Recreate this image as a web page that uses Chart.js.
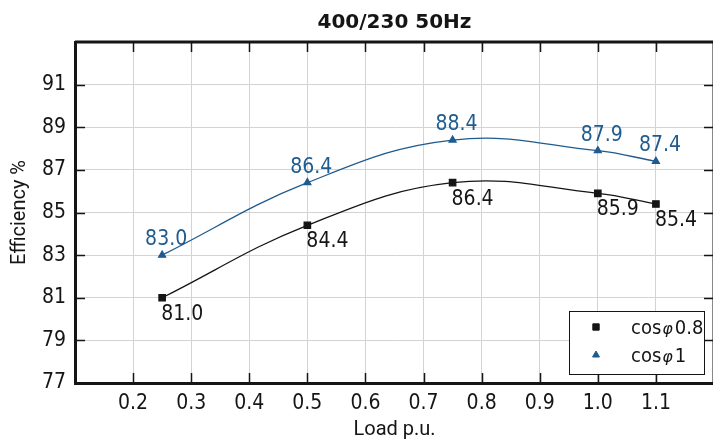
<!DOCTYPE html>
<html>
<head>
<meta charset="utf-8">
<script src="https://cdn.jsdelivr.net/npm/chart.js@4.4.1/dist/chart.umd.min.js"></script>
<style>
  html, body { margin: 0; padding: 0; background: #fff; overflow: hidden; }
  #wrap { width: 722px; height: 442px; }
</style>
</head>
<body>
<div id="wrap"><canvas id="effChart" width="722" height="442"></canvas></div>
<script>
// data
const loads = [0.25, 0.5, 0.75, 1.0, 1.1];
const effCos08 = [81.0, 84.4, 86.4, 85.9, 85.4];
const effCos1 = [83.0, 86.4, 88.4, 87.9, 87.4];
const seriesLabels = ['cosφ 0.8', 'cosφ 1'];
const xTickLabels = [0.2, 0.3, 0.4, 0.5, 0.6, 0.7, 0.8, 0.9, 1.0, 1.1];
const yTickLabels = [77, 79, 81, 83, 85, 87, 89, 91];
const chartTitle = '400/230 50Hz';
const xTitle = 'Load p.u.';
const yTitle = 'Efficiency %';

const BLUE = '#1f5b8e';
const INK = '#151515';
const narrow = "'Liberation Sans Narrow', 'DejaVu Sans Condensed', Roboto, sans-serif";
const labelFont = "21px " + narrow;

//inward tick marks on all four sides + the top/right frame
const frameTicks = {
  id: 'frameTicks',
  beforeDatasetsDraw(chart) {
    const { ctx, chartArea: a, scales: { x, y } } = chart;
    ctx.save();
    ctx.strokeStyle = INK;
    ctx.lineWidth = 1.5;
    ctx.beginPath();
    x.ticks.forEach(t => {
      if (t.value <= x.min + 1e-6 || t.value >= x.max - 1e-6) return;
      const px = Math.round(x.getPixelForValue(t.value)) + 0.5;
      ctx.moveTo(px, a.bottom); ctx.lineTo(px, a.bottom - 10);
      ctx.moveTo(px, a.top); ctx.lineTo(px, a.top + 10);
    });
    y.ticks.forEach(t => {
      if (t.value <= y.min || t.value >= y.max) return;
      const py = Math.round(y.getPixelForValue(t.value)) + 0.5;
      ctx.moveTo(a.left, py); ctx.lineTo(a.left + 10, py);
      ctx.moveTo(a.right, py); ctx.lineTo(a.right - 10, py);
    });
    ctx.stroke();
    ctx.lineWidth = 3;
    ctx.beginPath();
    ctx.moveTo(a.left, a.top); ctx.lineTo(a.right, a.top); ctx.lineTo(a.right, a.bottom);
    ctx.stroke();
    ctx.restore();
  }
};

//value labels next to each point
const valueLabels = {
  id: 'valueLabels',
  afterDatasetsDraw(chart) {
    const ctx = chart.ctx;
    chart.data.datasets.forEach((ds, i) => {
      const meta = chart.getDatasetMeta(i);
      ctx.save();
      ctx.font = labelFont;
      ctx.fillStyle = ds.borderColor;
      ctx.textBaseline = 'alphabetic';
      meta.data.forEach((pt, j) => {
        const txt = ds.data[j].y.toFixed(1);
        if (ds.labelBelow) {
          ctx.textAlign = 'left';
          ctx.fillText(txt, pt.x - 1, pt.y + 22);
        } else {
          ctx.textAlign = 'center';
          ctx.fillText(txt, pt.x + 4, pt.y - 10);
        }
      });
      ctx.restore();
    });
  }
};

//boxed legend in the lower right corner of the plot
const boxLegend = {
  id: 'boxLegend',
  afterDraw(chart) {
    const { ctx, chartArea: a } = chart;
    const w = 135, h = 63;
    const left = a.right - 10 - w, top = a.bottom - 9 - h;
    ctx.save();
    ctx.fillStyle = '#fff';
    ctx.fillRect(left, top, w, h);
    ctx.strokeStyle = INK;
    ctx.lineWidth = 1;
    ctx.strokeRect(left + 0.5, top + 0.5, w, h);
    chart.data.datasets.forEach((ds, i) => {
      const cy = top + 16 + i * 28;
      ctx.fillStyle = ds.pointBackgroundColor;
      ctx.strokeStyle = ds.pointBorderColor;
      Chart.helpers.drawPoint(ctx, { pointStyle: ds.pointStyle, radius: ds.pointRadius, borderWidth: 1 }, left + 27, cy);
      // the phi is set in a slanted face like the original
      const [pre, post] = ds.label.split('φ');
      ctx.fillStyle = INK;
      ctx.textAlign = 'left';
      ctx.textBaseline = 'alphabetic';
      let tx = left + 62;
      const base = cy + 7;
      ctx.font = "20px " + narrow;
      ctx.fillText(pre, tx, base);
      tx += ctx.measureText(pre).width + 1;
      ctx.font = "italic 16px 'DejaVu Sans'";
      ctx.fillText('φ', tx, base);
      tx += ctx.measureText('φ').width + 2;
      ctx.font = "20px " + narrow;
      ctx.fillText(post.trim(), tx, base);
    });
    ctx.restore();
  }
};

const hasTick = (list, v) => list.some(t => Math.abs(t - v) < 1e-6);

new Chart(document.getElementById('effChart'), {
  type: 'line',
  data: {
    datasets: [
      {
        label: seriesLabels[0],
        data: loads.map((x, i) => ({ x, y: effCos08[i] })),
        borderColor: INK,
        pointBackgroundColor: INK,
        pointBorderColor: INK,
        pointStyle: 'rect',
        pointRadius: 4.5,
        borderWidth: 1.3,
        tension: 0.4,
        labelBelow: true
      },
      {
        label: seriesLabels[1],
        data: loads.map((x, i) => ({ x, y: effCos1[i] })),
        borderColor: BLUE,
        pointBackgroundColor: BLUE,
        pointBorderColor: BLUE,
        pointStyle: 'triangle',
        pointRadius: 4,
        borderWidth: 1.3,
        tension: 0.4,
        labelBelow: false
      }
    ]
  },
  options: {
    responsive: false,
    animation: false,
    devicePixelRatio: 1,
    layout: { padding: { right: 2 } },
    plugins: {
      legend: { display: false },
      tooltip: { enabled: false },
      title: {
        display: true,
        text: chartTitle,
        fullSize: false,
        color: INK,
        font: { family: 'DejaVu Sans', size: 20, weight: 'bold' },
        padding: { top: 11, bottom: 7 }
      }
    },
    scales: {
      x: {
        type: 'linear',
        min: 0.1,
        max: 1.2,
        afterFit: s => { s.height = 59; },
        ticks: {
          stepSize: 0.1,
          autoSkip: false,
          maxRotation: 0,
          padding: 8,
          color: INK,
          font: { family: narrow, size: 21 },
          callback: v => hasTick(xTickLabels, v) ? v.toFixed(1) : ''
        },
        grid: { color: '#d3d3d3', lineWidth: 1, drawTicks: false },
        border: { color: INK, width: 3 },
        title: {
          display: true,
          text: xTitle,
          color: INK,
          font: { family: 'Roboto', size: 20 },
          padding: { top: 0, bottom: 0 }
        }
      },
      y: {
        min: 77,
        max: 93,
        afterFit: s => { s.width = 75; },
        ticks: {
          stepSize: 2,
          padding: 9,
          color: INK,
          font: { family: narrow, size: 21 },
          callback: v => hasTick(yTickLabels, v) ? String(v) : ''
        },
        grid: { color: '#d3d3d3', lineWidth: 1, drawTicks: false },
        border: { color: INK, width: 3 },
        title: {
          display: true,
          text: yTitle,
          color: INK,
          font: { family: 'Roboto', size: 20 },
          padding: { top: 8, bottom: 0 }
        }
      }
    }
  },
  plugins: [frameTicks, valueLabels, boxLegend]
});
</script>
</body>
</html>
